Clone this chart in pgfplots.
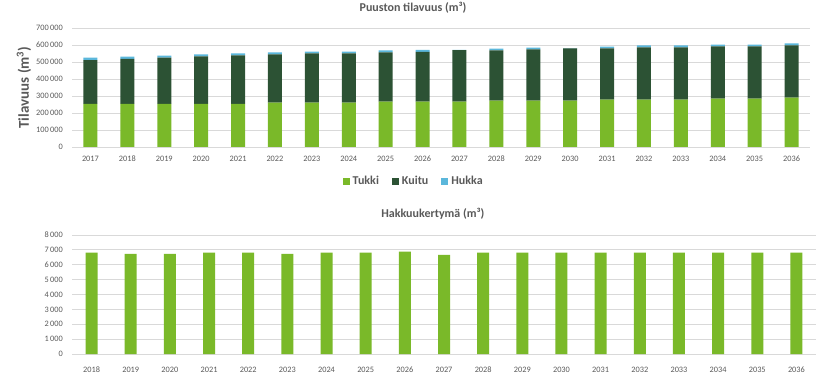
\documentclass[border=0pt]{standalone}
\usepackage{pgfplots}
\pgfplotsset{compat=1.18}
\usepackage{pgfplotstable}
\usepackage{fontspec}
\setmainfont{Carlito}
\definecolor{tukki}{HTML}{7AB929}
\definecolor{kuitu}{HTML}{2C5234}
\definecolor{hukka}{HTML}{5BB7DB}
\definecolor{txt}{HTML}{595959}
\definecolor{gridc}{HTML}{D9D9D9}

\pgfplotstableread{
x tukki kuitu hukka
0  253600 257400 14000
1  253600 265400 12000
2  253600 271400 12000
3  253600 279400 12000
4  253600 285400 12000
5  261500 283500 11000
6  261500 289000 10000
7  261500 289000 10000
8  267000 289000 12000
9  267000 293000 12000
10 267000 303000 2000
11 273000 295000 10000
12 273000 301000 10000
13 273000 307000 2000
14 279000 301000 10000
15 279000 307000 12000
16 279000 307000 12000
17 285000 307000 10000
18 285000 307000 10000
19 291000 307000 12000
}\toptable

\pgfplotstableread{
x hakkuu
0  6816
1  6726
2  6726
3  6816
4  6816
5  6726
6  6816
7  6816
8  6883
9  6659
10 6816
11 6816
12 6816
13 6816
14 6816
15 6816
16 6816
17 6816
18 6816
}\bottable

\begin{document}
\begin{tikzpicture}
\path[use as bounding box] (0,0) rectangle (827pt,378pt);
\pgfplotsset{
  common/.style={
    scale only axis,
    anchor=south west,
    axis line style={draw=none},
    tick style={draw=none},
    ymajorgrids,
    grid style={gridc, line width=0.8pt},
    ymin=0,
    xtick=data,
    scaled y ticks=false,
    tick label style={font=\fontsize{8.3}{9}\selectfont, text=txt},
    xticklabel style={inner sep=0pt, anchor=north, text height=6pt, text depth=0pt, yshift=-8pt},
    yticklabel style={inner sep=0pt, xshift=-9pt},
    /pgf/number format/fixed,
    /pgf/number format/1000 sep={\thinspace},
    /pgf/number format/assume math mode=true,
  },
}
\begin{axis}[common,
  at={(72pt,231pt)}, width=738pt, height=119pt,
  ybar stacked, bar width=14pt,
  xmin=-0.5, xmax=19.5, ymax=700000,
  ytick={0,100000,200000,300000,400000,500000,600000,700000},
  xticklabels={2017,2018,2019,2020,2021,2022,2023,2024,2025,2026,2027,2028,2029,2030,2031,2032,2033,2034,2035,2036},
  title={Puuston tilavuus (m³)},
  title style={at={(axis description cs:0.462,1)}, anchor=center, yshift=14pt, font=\bfseries\fontsize{12}{14}\selectfont, text=txt},
  ylabel={Tilavuus (m\textsuperscript{3})},
  ylabel style={at={(axis description cs:-0.065,0.5)}, anchor=center, font=\bfseries\fontsize{15}{17}\selectfont, text=txt},
  legend columns=3,
  legend style={at={(axis description cs:0.463,-0.286)}, anchor=center, draw=none, fill=none,
    font=\bfseries\fontsize{12}{14}\selectfont, text=txt,
    /tikz/every odd column/.append style={column sep=1pt},
    /tikz/every even column/.append style={column sep=11pt}},
  legend image code/.code={\fill[#1] (0pt,-3.5pt) rectangle (7pt,3.5pt);},
]
\addplot[fill=tukki, draw=none] table[x=x, y=tukki] {\toptable};
\addplot[fill=kuitu, draw=none] table[x=x, y=kuitu] {\toptable};
\addplot[fill=hukka, draw=none] table[x=x, y=hukka] {\toptable};
\legend{Tukki, Kuitu, Hukka}
\end{axis}

\begin{axis}[common,
  at={(72pt,24pt)}, width=744pt, height=119pt,
  ybar, bar width=12pt,
  xmin=-0.5, xmax=18.5, ymax=8000,
  ytick={0,1000,2000,3000,4000,5000,6000,7000,8000},
  xticklabels={2018,2019,2020,2021,2022,2023,2024,2025,2026,2027,2028,2029,2030,2031,2032,2033,2034,2035,2036},
  title={Hakkuukertymä (m³)},
  title style={at={(axis description cs:0.485,1)}, anchor=center, yshift=15pt, font=\bfseries\fontsize{12}{14}\selectfont, text=txt},
]
\addplot[fill=tukki, draw=none] table[x=x, y=hakkuu] {\bottable};
\end{axis}
\end{tikzpicture}
\end{document}
